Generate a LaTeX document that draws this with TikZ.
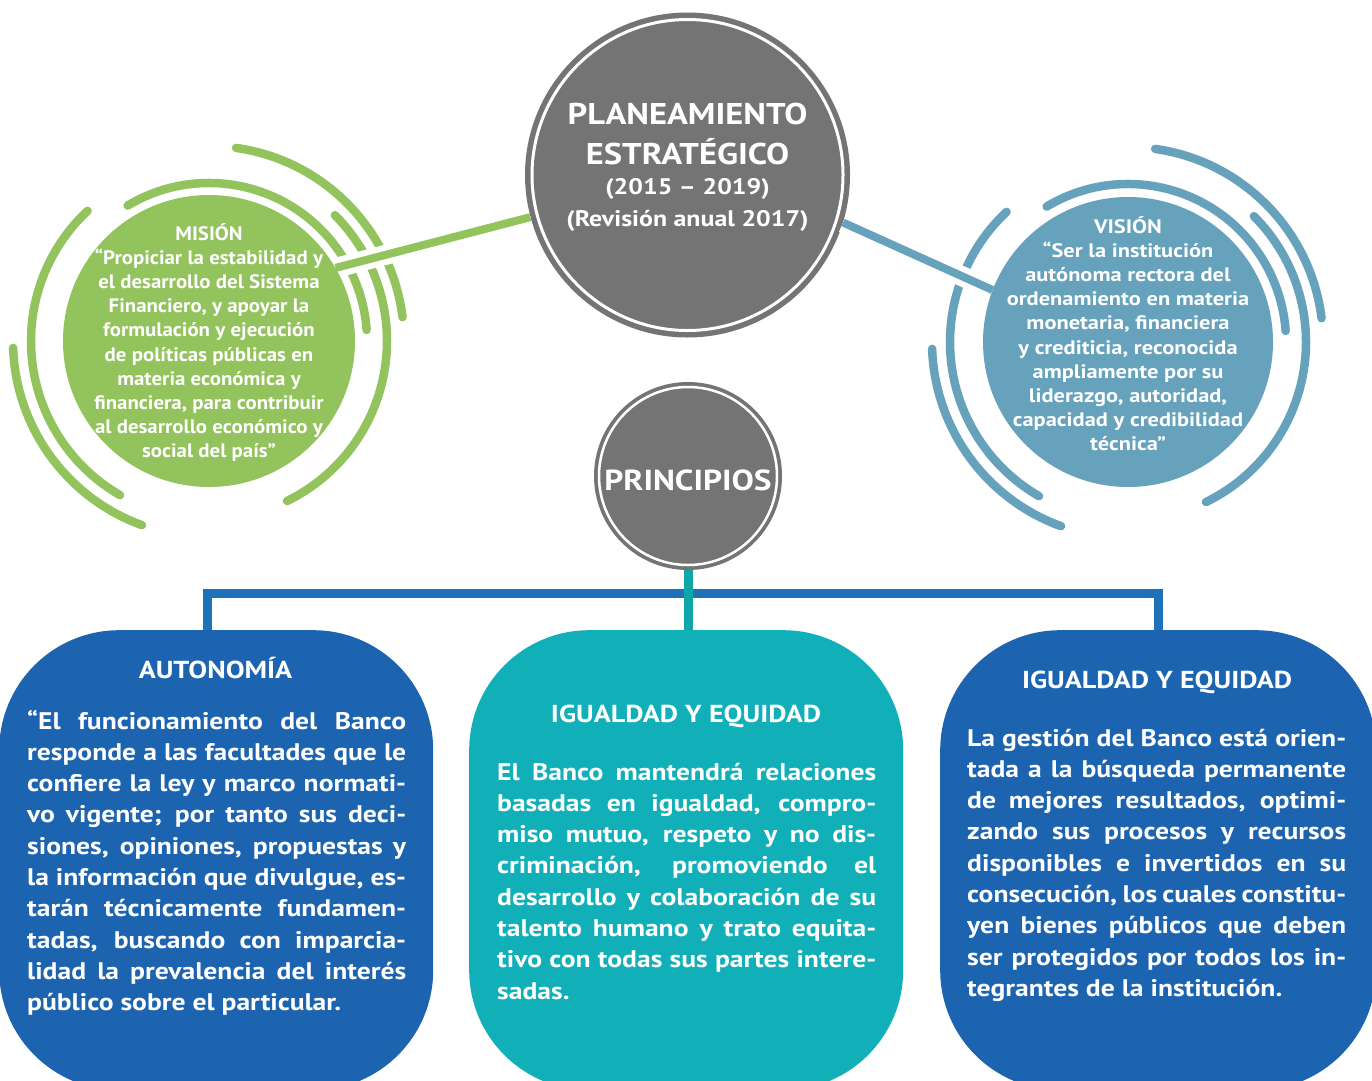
\documentclass[tikz,border=0pt]{standalone}
\usepackage{fontspec}
\setmainfont{PT Sans}[FakeStretch=1.15]
\newfontfamily\condfont{PT Sans}[FakeStretch=1.07]
\definecolor{misgreen}{HTML}{93C35C}
\definecolor{visblue}{HTML}{66A2BC}
\definecolor{circgray}{HTML}{747474}
\definecolor{boxblue}{HTML}{1C64B0}
\definecolor{boxteal}{HTML}{11B0B8}
\definecolor{lineteal}{HTML}{10A6A8}
\definecolor{lineblue}{HTML}{1E72BA}
\newcommand\jl[1]{\hbox to \hsize{#1}}
\newcommand\nl[1]{\hbox{#1}}
\newcommand\bodytext[1]{\begin{minipage}[t]{379pt}\fontsize{24}{31.3}\selectfont\bfseries\baselineskip=31.3pt\relax #1\end{minipage}}
\newcommand\circlines[3]{\begin{minipage}[t]{330pt}\centering #1\fontsize{#2}{24.2}\selectfont #3\end{minipage}}
\begin{document}
\begin{tikzpicture}[x=1pt,y=-1pt,
  ring/.style={line width=8.5pt, line cap=round},
  wtxt/.style={text=white, inner sep=0pt, anchor=base},
  pbox/.style={rectangle, rounded corners=120pt, minimum width=434pt, minimum height=460pt, anchor=north west, inner sep=0pt},
  graycirc/.style={circle, fill=circgray, inner sep=0pt},
  bodynode/.style={text=white, inner sep=0pt, anchor=base west},
  titlefont/.style={font=\bfseries\fontsize{24.5}{24.5}\selectfont}]
\useasboundingbox (0,0) rectangle (1372,1080);
\clip (0,0) rectangle (1372,1080);
\fill[white] (0,0) rectangle (1372,1080);

% ---------- MISION ----------
\node[circle, fill=misgreen, minimum size=292pt, inner sep=0pt] (mision) at (209,341) {};
\draw[ring, misgreen] (mision.center) ++(-121:158) arc[start angle=-121, end angle=-4, radius=158];
\draw[ring, misgreen] (mision.center) ++(-45:178) arc[start angle=-45, end angle=64, radius=178];
\draw[ring, misgreen] (mision.center) ++(-82:195) arc[start angle=-82, end angle=-7, radius=195];
\draw[ring, misgreen] (mision.center) ++(-133:178) arc[start angle=-133, end angle=-240, radius=178];
\draw[ring, misgreen] (mision.center) ++(-182:196) arc[start angle=-182, end angle=-250, radius=196];
\node[wtxt] (mistext) at (209,240) {\circlines{\condfont\bfseries}{19.5}{MISIÓN\\
“Propiciar la estabilidad y\\
el desarrollo del Sistema\\
Financiero, y apoyar la\\
formulación y ejecución\\
de políticas públicas en\\
materia económica y\\
financiera, para contribuir\\
al desarrollo económico y\\
social del país”}};

% ---------- VISION ----------
\node[circle, fill=visblue, minimum size=290pt, inner sep=0pt] (vision) at (1128,342) {};
\draw[ring, visblue] (vision.center) ++(-121:158) arc[start angle=-121, end angle=-4, radius=158];
\draw[ring, visblue] (vision.center) ++(-45:178) arc[start angle=-45, end angle=64, radius=178];
\draw[ring, visblue] (vision.center) ++(-82:195) arc[start angle=-82, end angle=-7, radius=195];
\draw[ring, visblue] (vision.center) ++(-133:178) arc[start angle=-133, end angle=-240, radius=178];
\draw[ring, visblue] (vision.center) ++(-182:196) arc[start angle=-182, end angle=-250, radius=196];
\node[wtxt] (vistext) at (1128,233) {\circlines{\bfseries}{19.5}{VISIÓN\\
“Ser la institución\\
autónoma rectora del\\
ordenamiento en materia\\
monetaria, financiera\\
y crediticia, reconocida\\
ampliamente por su\\
liderazgo, autoridad,\\
capacidad y credibilidad\\
técnica”}};

% ---------- PLANEAMIENTO ----------
\node[graycirc, minimum size=325pt] (plan) at (687.5,175) {};
\draw[white, line width=3pt] (plan.center) circle[radius=155.5];
\node[wtxt, font=\bfseries\fontsize{30}{30}\selectfont] (plan1) at (687.5,124) {PLANEAMIENTO};
\node[wtxt, font=\bfseries\fontsize{30}{30}\selectfont] (plan2) at (687.5,164) {ESTRATÉGICO};
\node[wtxt, font=\bfseries\fontsize{22.5}{22.5}\selectfont] (plan3) at (687.5,194) {(2015 – 2019)};
\node[wtxt, font=\bfseries\fontsize{22.5}{22.5}\selectfont] (plan4) at (687.5,226) {(Revisión anual 2017)};

% connectors circle to circle
\draw[white, line width=20pt, shorten <=4pt] (mision.30) -- (plan.195);
\draw[misgreen, line width=8pt] (mision.30) -- (plan.195);
\draw[white, line width=20pt, shorten <=4pt] (vision.159) -- (plan.343);
\draw[visblue, line width=8pt] (vision.159) -- (plan.343);

% ---------- PRINCIPIOS ----------
\node[graycirc, minimum size=188pt] (princ) at (688,476) {};
\draw[white, line width=2.5pt] (princ.center) circle[radius=89];
\node[wtxt, font=\bfseries\fontsize{29}{29}\selectfont] (princtext) at (688,490) {PRINCIPIOS};

% ---------- BOXES ----------
\node[pbox, fill=boxblue] (autbox) at (-1,630) {};
\node[pbox, fill=boxteal] (midbox) at (469,630) {};
\node[pbox, fill=boxblue, minimum width=436pt] (igubox) at (940,630) {};

\coordinate (bar) at (688,593);
\draw[lineblue, line width=9pt] ([xshift=-9pt]autbox.north) |- (bar) -| (igubox.north);
\draw[lineteal, line width=9pt] (princ.south) -- (princ.south |- midbox.north);

% titles
\node[wtxt, titlefont] (auttitle) at (215.5,678) {AUTONOMÍA};
\node[wtxt, titlefont] (midtitle) at (686,722) {IGUALDAD Y EQUIDAD};
\node[wtxt, titlefont] (igutitle) at (1157,688) {IGUALDAD Y EQUIDAD};

% bodies
\node[bodynode] (autbody) at (27,729) {\bodytext{%
\jl{“El funcionamiento del Banco}
\jl{responde a las facultades que le}
\jl{confiere la ley y marco normati-}
\jl{vo vigente; por tanto sus deci-}
\jl{siones, opiniones, propuestas y}
\jl{la información que divulgue, es-}
\jl{tarán técnicamente fundamen-}
\jl{tadas, buscando con imparcia-}
\jl{lidad la prevalencia del interés}
\nl{público sobre el particular.}}};

\node[bodynode] (midbody) at (497,780) {\bodytext{%
\jl{El Banco mantendrá relaciones}
\jl{basadas en igualdad, compro-}
\jl{miso mutuo, respeto y no dis-}
\jl{criminación, promoviendo el}
\jl{desarrollo y colaboración de su}
\jl{talento humano y trato equita-}
\jl{tivo con todas sus partes intere-}
\nl{sadas.}}};

\node[bodynode] (igubody) at (967,746) {\bodytext{%
\jl{La gestión del Banco está orien-}
\jl{tada a la búsqueda permanente}
\jl{de mejores resultados, optimi-}
\jl{zando sus procesos y recursos}
\jl{disponibles e invertidos en su}
\jl{consecución, los cuales constitu-}
\jl{yen bienes públicos que deben}
\jl{ser protegidos por todos los in-}
\nl{tegrantes de la institución.}}};
\end{tikzpicture}
\end{document}
